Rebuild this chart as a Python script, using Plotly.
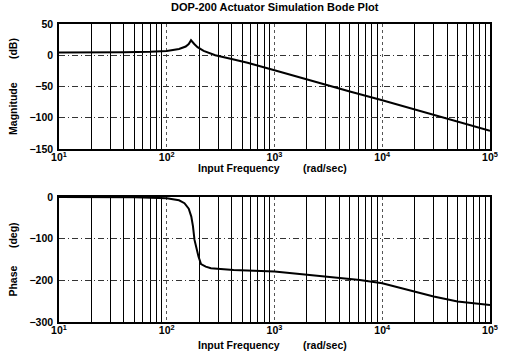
import plotly.graph_objects as go
from plotly.subplots import make_subplots

# Data
mag_freq = [10, 20, 40, 70, 100, 130, 150, 160, 168, 180, 193, 220, 282, 400, 562, 1000, 1590, 3000, 5000, 10000, 20000, 50000, 100000]
mag_db = [4.5, 4.5, 5, 5.8, 7, 10, 14, 18, 24, 18, 13, 7, 0, -6, -12, -24, -34, -47, -58, -72, -87, -106, -121]

ph_freq = [10, 50, 100, 130, 146, 160, 169, 175, 181, 190, 197, 208, 230, 257, 417, 1000, 2000, 6200, 10000, 20000, 30000, 50000, 100000]
ph_deg = [0, -0.5, -3, -8, -15, -28, -47, -70, -103, -128, -143, -161, -167, -171, -175, -179, -186, -199, -207, -227, -239, -251, -259]

x_tickvals = [10, 100, 1000, 10000, 100000]
x_ticktext = ["10<sup>1</sup>", "10<sup>2</sup>", "10<sup>3</sup>", "10<sup>4</sup>", "10<sup>5</sup>"]
mag_ticks = [50, 0, -50, -100, -150]
ph_ticks = [0, -100, -200, -300]

title_text = "DOP-200 Actuator Simulation Bode Plot"
xlabel = "Input Frequency" + "\u00a0" * 8 + "(rad/sec)"
mag_label = "Magnitude" + "\u00a0" * 8 + "(dB)"
ph_label = "Phase" + "\u00a0" * 6 + "(deg)"

FONT = dict(family="Liberation Sans", size=10.5, color="black", weight="bold")
TFONT = dict(family="Liberation Sans", size=11, color="black", weight="bold")

fig = make_subplots(rows=2, cols=1, vertical_spacing=0.16)
fig.add_trace(go.Scatter(x=mag_freq, y=mag_db, mode="lines",
                         line=dict(color="black", width=2), showlegend=False), row=1, col=1)
fig.add_trace(go.Scatter(x=ph_freq, y=ph_deg, mode="lines",
                         line=dict(color="black", width=2), showlegend=False), row=2, col=1)

xcommon = dict(type="log", range=[1, 5], tickvals=x_tickvals, ticktext=x_ticktext,
               showline=True, linecolor="black", linewidth=1.5, mirror=True,
               showgrid=True, gridcolor="#555", gridwidth=1, griddash="dot",
               ticks="", tickfont=FONT, zeroline=False, ticklabelstandoff=-2,
               minor=dict(tickvals=[m * 10 ** e for e in range(1, 5) for m in range(2, 10)],
                          showgrid=True, gridcolor="black", gridwidth=1.4, griddash="solid",
                          ticks="inside", ticklen=4, tickcolor="black"))
fig.update_xaxes(**xcommon)
fig.update_yaxes(showline=True, linecolor="black", linewidth=1.5, mirror=True,
                 showgrid=True, gridcolor="#333", gridwidth=1,
                 griddash="6px,3px,1px,3px", ticks="", tickfont=FONT, zeroline=False,
                 ticklabelstandoff=2)
fig.update_yaxes(range=[-150, 50], tickvals=mag_ticks, row=1, col=1,
                 title=dict(text=mag_label, font=FONT, standoff=10))
fig.update_yaxes(range=[-300, 0], tickvals=ph_ticks, row=2, col=1,
                 title=dict(text=ph_label, font=FONT, standoff=10))

fig.update_layout(
    width=510, height=353,
    margin=dict(l=57, r=13, t=24, b=31),
    paper_bgcolor="white", plot_bgcolor="white",
    annotations=[
        dict(text=title_text, x=0.5, y=1.03, xref="paper", yref="paper",
             showarrow=False, font=TFONT, xanchor="center", yanchor="bottom"),
        dict(text=xlabel, x=0.495, y=0.5168, xref="paper", yref="paper",
             showarrow=False, font=FONT, xanchor="center", yanchor="middle"),
        dict(text=xlabel, x=0.495, y=-0.0772, xref="paper", yref="paper",
             showarrow=False, font=FONT, xanchor="center", yanchor="middle"),
    ],
)
fig.update_layout(yaxis=dict(domain=[0.5805, 1]), yaxis2=dict(domain=[0, 0.4195]))

fig.write_html("out.html")
